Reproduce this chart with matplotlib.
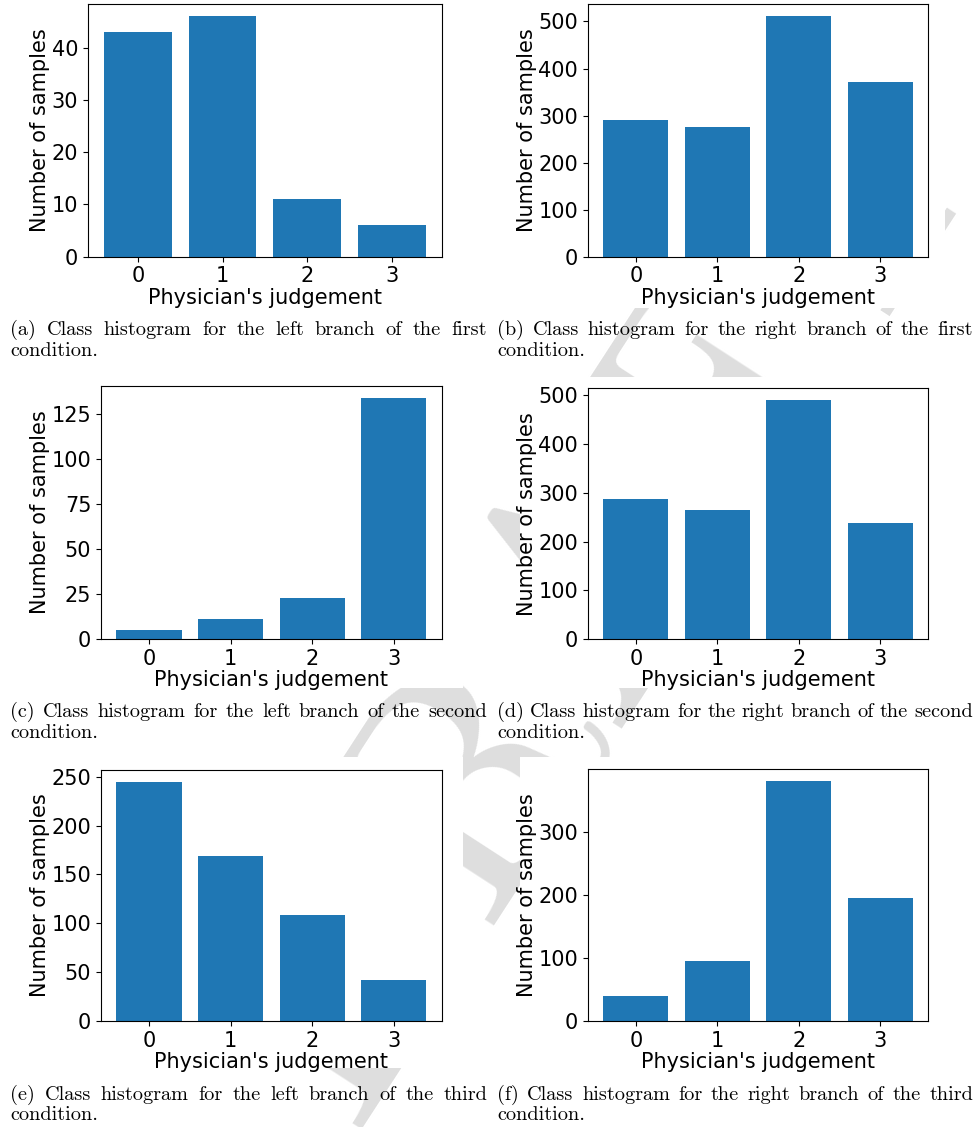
import matplotlib
matplotlib.use('Agg')
from matplotlib import pyplot as plt
from matplotlib.patches import Rectangle

classes = [0, 1, 2, 3]
left_first = [43, 46, 11, 6]
right_first = [290, 275, 511, 371]
left_second = [5, 11, 23, 134]
right_second = [287, 264, 490, 238]
left_third = [245, 169, 108, 42]
right_third = [40, 95, 380, 195]

captions = [
    ('(a) Class histogram for the left branch of the first', 'condition.'),
    ('(b) Class histogram for the right branch of the first', 'condition.'),
    ('(c) Class histogram for the left branch of the second', 'condition.'),
    ('(d) Class histogram for the right branch of the second', 'condition.'),
    ('(e) Class histogram for the left branch of the third', 'condition.'),
    ('(f) Class histogram for the right branch of the third', 'condition.'),
]

W, H = 979, 1127
fig = plt.figure(figsize=(W / 100, H / 100), dpi=100)
plt.rcParams['font.size'] = 15


def frac_box(x0, y0, x1, y1):
    return [x0 / W, 1 - y1 / H, (x1 - x0) / W, (y1 - y0) / H]


# page watermark behind everything
fig.text(600 / W, 1 - 600 / H, 'DRAFT', rotation=57, fontsize=230,
         color='#dedede', family='cmr10', ha='center', va='center',
         rotation_mode='anchor', zorder=-3)

# white backgrounds of the included plots
for y0, y1 in [(0, 308), (377, 688), (757, 1068)]:
    for x0, x1 in [(0, 463), (520, 945)]:
        fig.add_artist(Rectangle((x0 / W, 1 - y1 / H), (x1 - x0) / W, (y1 - y0) / H,
                                 transform=fig.transFigure, facecolor='white',
                                 edgecolor='none', zorder=-2))

boxes = [
    (88, 4.3, 441.7, 256.7),
    (587.7, 4.3, 928.3, 256.7),
    (101, 386, 441.7, 639),
    (587.7, 388.3, 928.3, 639),
    (101, 769.7, 441.7, 1021),
    (587.7, 769.3, 928.3, 1021),
]
series = [left_first, right_first, left_second, right_second, left_third, right_third]

for box, counts in zip(boxes, series):
    ax = fig.add_axes(frac_box(*box))
    ax.bar(classes, counts, width=0.8, color='#1f77b4')
    ax.set_xticks(classes)
    ax.set_xlabel("Physician's judgement", labelpad=1)
    ax.set_ylabel('Number of samples', labelpad=1)

renderer = fig.canvas.get_renderer()
cap_size = 14.6


def caption(x0, x1, y, line1, line2):
    # justified first line, second line flush left
    words = line1.split()
    texts = [fig.text(0, 1 - y / H, w, family='cmr10', fontsize=cap_size,
                      va='baseline', ha='left') for w in words]
    widths = [t.get_window_extent(renderer).width for t in texts]
    gap = (x1 - x0 - sum(widths)) / (len(words) - 1)
    x = x0
    for t, w in zip(texts, widths):
        t.set_x(x / W)
        x += w + gap
    fig.text(x0 / W, 1 - (y + 20.5) / H, line2, family='cmr10', fontsize=cap_size,
             va='baseline', ha='left')


for i, (l1, l2) in enumerate(captions):
    row, col = divmod(i, 2)
    y = [335, 717, 1100][row]
    x0, x1 = [(10, 487), (497, 973)][col]
    caption(x0, x1, y, l1, l2)

fig.savefig('out.png', dpi=100)
